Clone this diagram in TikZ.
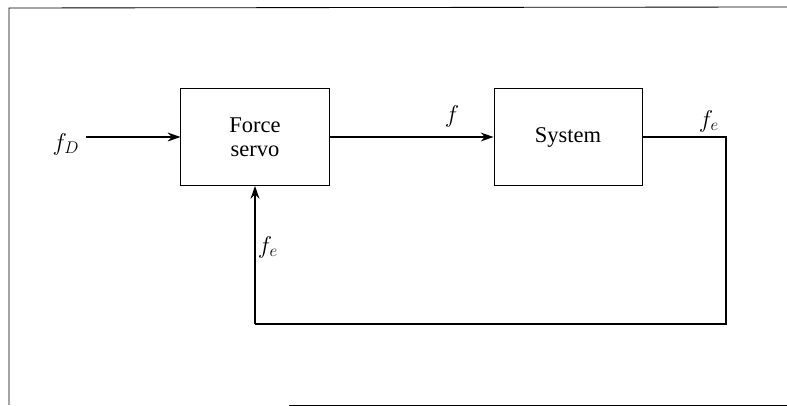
\documentclass[tikz,border=0pt]{standalone}
\usepackage{amsmath,amssymb}
\usepackage{fontspec}
\setmainfont{Liberation Serif}
\usetikzlibrary{positioning,arrows.meta}

\tikzset{
  blockbox/.style={draw, line width=0.7pt, minimum width=3.7cm, minimum height=2.42cm,
    align=center, font=\fontsize{16}{17}\selectfont},
  sig/.style={line width=1.3pt, -{Stealth[length=3.2mm,width=2.2mm]}},
  wire/.style={line width=1.3pt},
  siglabel/.style={font=\fontsize{18.5}{20}\selectfont}
}

\begin{document}
\begin{tikzpicture}[x=0.025cm,y=0.025cm]
  \useasboundingbox (0,0) rectangle (787,406);
  % frame
  \draw[line width=0.6pt] (787,399) -- (9,398) -- (9,1);
  \draw[line width=0.6pt] (289,1) -- (787,1);
  % blocks
  \node[blockbox] (servo) at (255,269) {Force\\servo};
  \node[blockbox, right=4.1cm of servo] (sys) {System};
  % input
  \coordinate (in) at (86,0 |- servo.west);
  \node[siglabel] (fD) at (66,262) {$f_D$};
  \draw[sig] (in) -- (servo.west);
  % forward signal
  \draw[sig] (servo.east) -- (sys.west);
  \node[siglabel] (f) at (452,290) {$f$};
  % output and feedback
  \coordinate (outc) at (726,0 |- sys.east);
  \coordinate (lowr) at (726,82);
  \coordinate (lowl) at (servo.south |- lowr);
  \draw[wire] (sys.east) -- (outc) -- (lowr) -- (lowl);
  \draw[sig] (lowl) -- (servo.south);
  \node[siglabel] (fe1) at (709,285) {$f_e$};
  \node[siglabel] (fe2) at (268,159) {$f_e$};
\end{tikzpicture}
\end{document}
